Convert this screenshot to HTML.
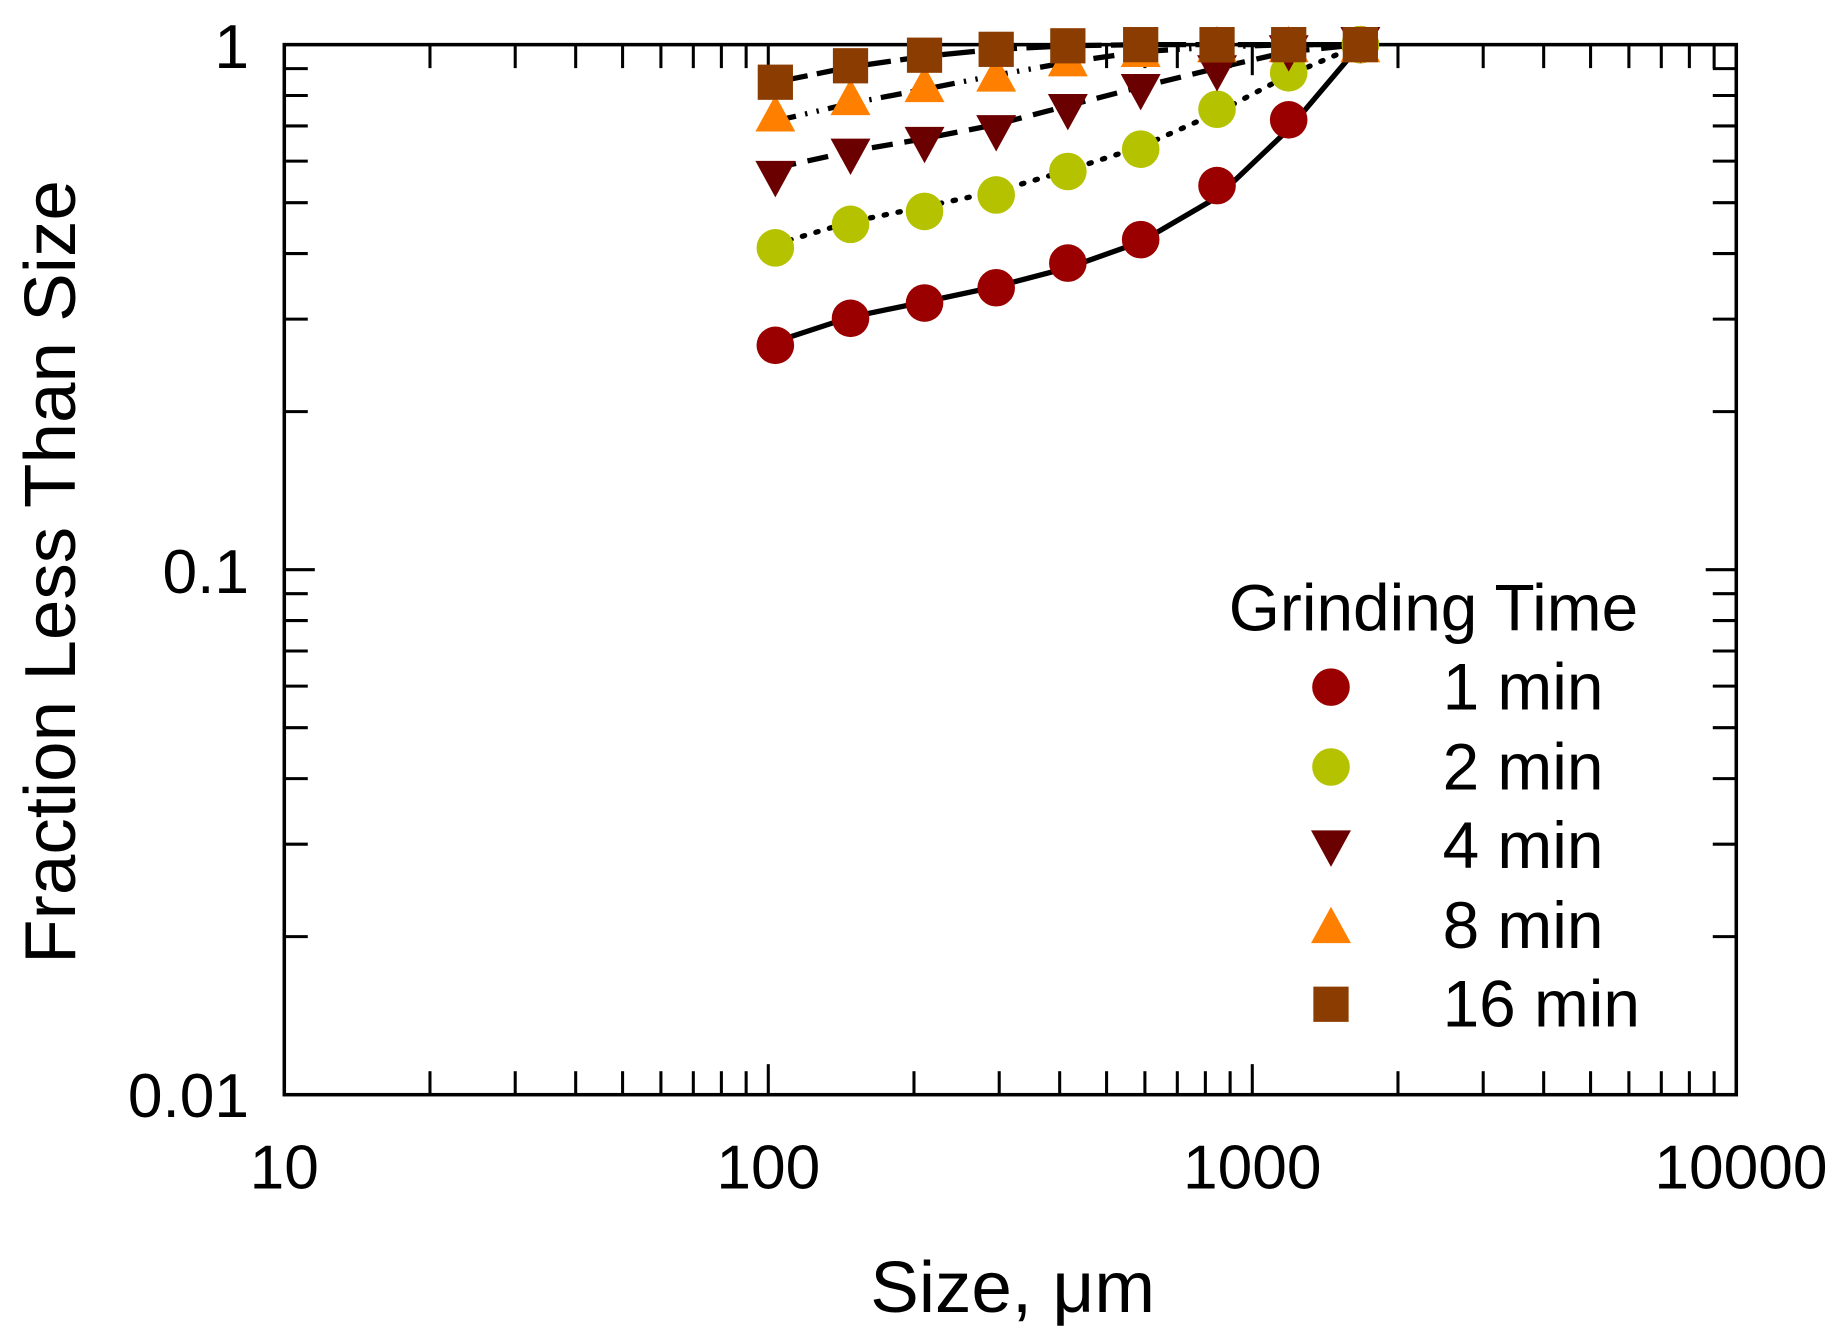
<!DOCTYPE html>
<html><head><meta charset="utf-8"><style>html,body{margin:0;padding:0;background:#fff}svg{display:block}</style></head>
<body>
<svg id="s" width="1842" height="1339" viewBox="0 0 1568 1140" preserveAspectRatio="none" xmlns="http://www.w3.org/2000/svg" font-family="Liberation Sans, Arial, sans-serif">
<rect width="1568" height="1140" fill="#fff"/>
<g id="ticks" stroke="#000" stroke-width="2.6"></g>
<rect x="242" y="38" width="1236" height="894" fill="none" stroke="#000" stroke-width="3"/>
<g font-size="53" fill="#000">
<text x="212" y="58" text-anchor="end">1</text>
<text x="212" y="505" text-anchor="end">0.1</text>
<text x="212" y="951" text-anchor="end">0.01</text>
<text x="242" y="1012" text-anchor="middle">10</text>
<text x="654" y="1012" text-anchor="middle">100</text>
<text x="1066" y="1012" text-anchor="middle">1000</text>
<text x="1482" y="1012" text-anchor="middle">10000</text>
</g>
<text x="862" y="1117" font-size="62" text-anchor="middle">Size, μm</text>
<text transform="translate(64,487) rotate(-90)" font-size="62" text-anchor="middle">Fraction Less Than Size</text>
<g fill="none" stroke="#000" stroke-width="4.5">
<polyline points="660,291 724,270 787,257 848,244 909,228 971,206 1036,168 1097,110 1158,38"/>
<polyline stroke-dasharray="2,10" stroke-linecap="round" points="660,208 724,189 787,176 848,163 909,145 971,125 1036,96 1097,64 1158,38"/>
<polyline stroke-dasharray="18,10" points="660,143 724,129 787,118 848,106 909,90 971,74 1036,58 1097,44 1158,38"/>
<polyline stroke-dasharray="18,8,2,8,2,8" points="660,103 724,88 787,76 848,64 909,53 971,44 1036,40 1097,38 1158,38"/>
<polyline stroke-dasharray="28,8" points="660,70 724,57 787,48 848,42 909,39 971,38 1036,38 1097,38 1158,38"/>
</g>
<g id="marks"></g>
<g font-size="56" fill="#000">
<text x="1046" y="537">Grinding Time</text>
<text x="1228" y="604">1 min</text>
<text x="1228" y="672">2 min</text>
<text x="1228" y="739">4 min</text>
<text x="1228" y="807">8 min</text>
<text x="1228" y="874">16 min</text>
</g>
</svg>
<script>
var NS="http://www.w3.org/2000/svg";
var t=document.getElementById('ticks'),m=document.getElementById('marks');
function L(x1,y1,x2,y2){var l=document.createElementNS(NS,'line');l.setAttribute('x1',x1);l.setAttribute('y1',y1);l.setAttribute('x2',x2);l.setAttribute('y2',y2);t.appendChild(l);}
for(var d=0;d<3;d++)for(var k=1;k<=9;k++){var x=242+412*(d+Math.log10(k));var len=k==1?26:20;if(k==1&&d==0)continue;L(x,932,x,932-len);L(x,38,x,38+len);}
for(var d=0;d<2;d++)for(var k=1;k<=9;k++){var y=932-447*(d+Math.log10(k));var len=k==1?26:20;if(k==1&&d==0)continue;L(242,y,242+len,y);L(1478,y,1478-len,y);}
var xs=[660,724,787,848,909,971,1036,1097,1158];
function C(x,y,c){var e=document.createElementNS(NS,'circle');e.setAttribute('cx',x);e.setAttribute('cy',y);e.setAttribute('r',16);e.setAttribute('fill',c);m.appendChild(e);}
function P(pts,c){var e=document.createElementNS(NS,'polygon');e.setAttribute('points',pts);e.setAttribute('fill',c);m.appendChild(e);}
function TD(x,y,c){P((x-17)+','+(y-15)+' '+(x+17)+','+(y-15)+' '+x+','+(y+16),c);}
function TU(x,y,c){P((x-17)+','+(y+15)+' '+(x+17)+','+(y+15)+' '+x+','+(y-16),c);}
function S(x,y,c){var e=document.createElementNS(NS,'rect');e.setAttribute('x',x-15);e.setAttribute('y',y-15);e.setAttribute('width',30);e.setAttribute('height',30);e.setAttribute('fill',c);m.appendChild(e);}
var r=[294,271,258,245,224,204,158,102,38],g=[211,191,180,166,146,127,93,62,38],dn=[152,133,123,113,95,78,62,45,38],up=[97,83,72,63,50,42,38,38,38],sq=[70,56,47,42,39,38,38,38,38];
for(var i=0;i<9;i++){C(xs[i],r[i],'#9b0000');C(xs[i],g[i],'#b5c200');TD(xs[i],dn[i],'#6b0000');TU(xs[i],up[i],'#ff8000');S(xs[i],sq[i],'#8b3c00');}
C(1133,585,'#9b0000');C(1133,653,'#b5c200');TD(1133,722,'#6b0000');TU(1133,788,'#ff8000');S(1133,855,'#8b3c00');
</script>
</body></html>
